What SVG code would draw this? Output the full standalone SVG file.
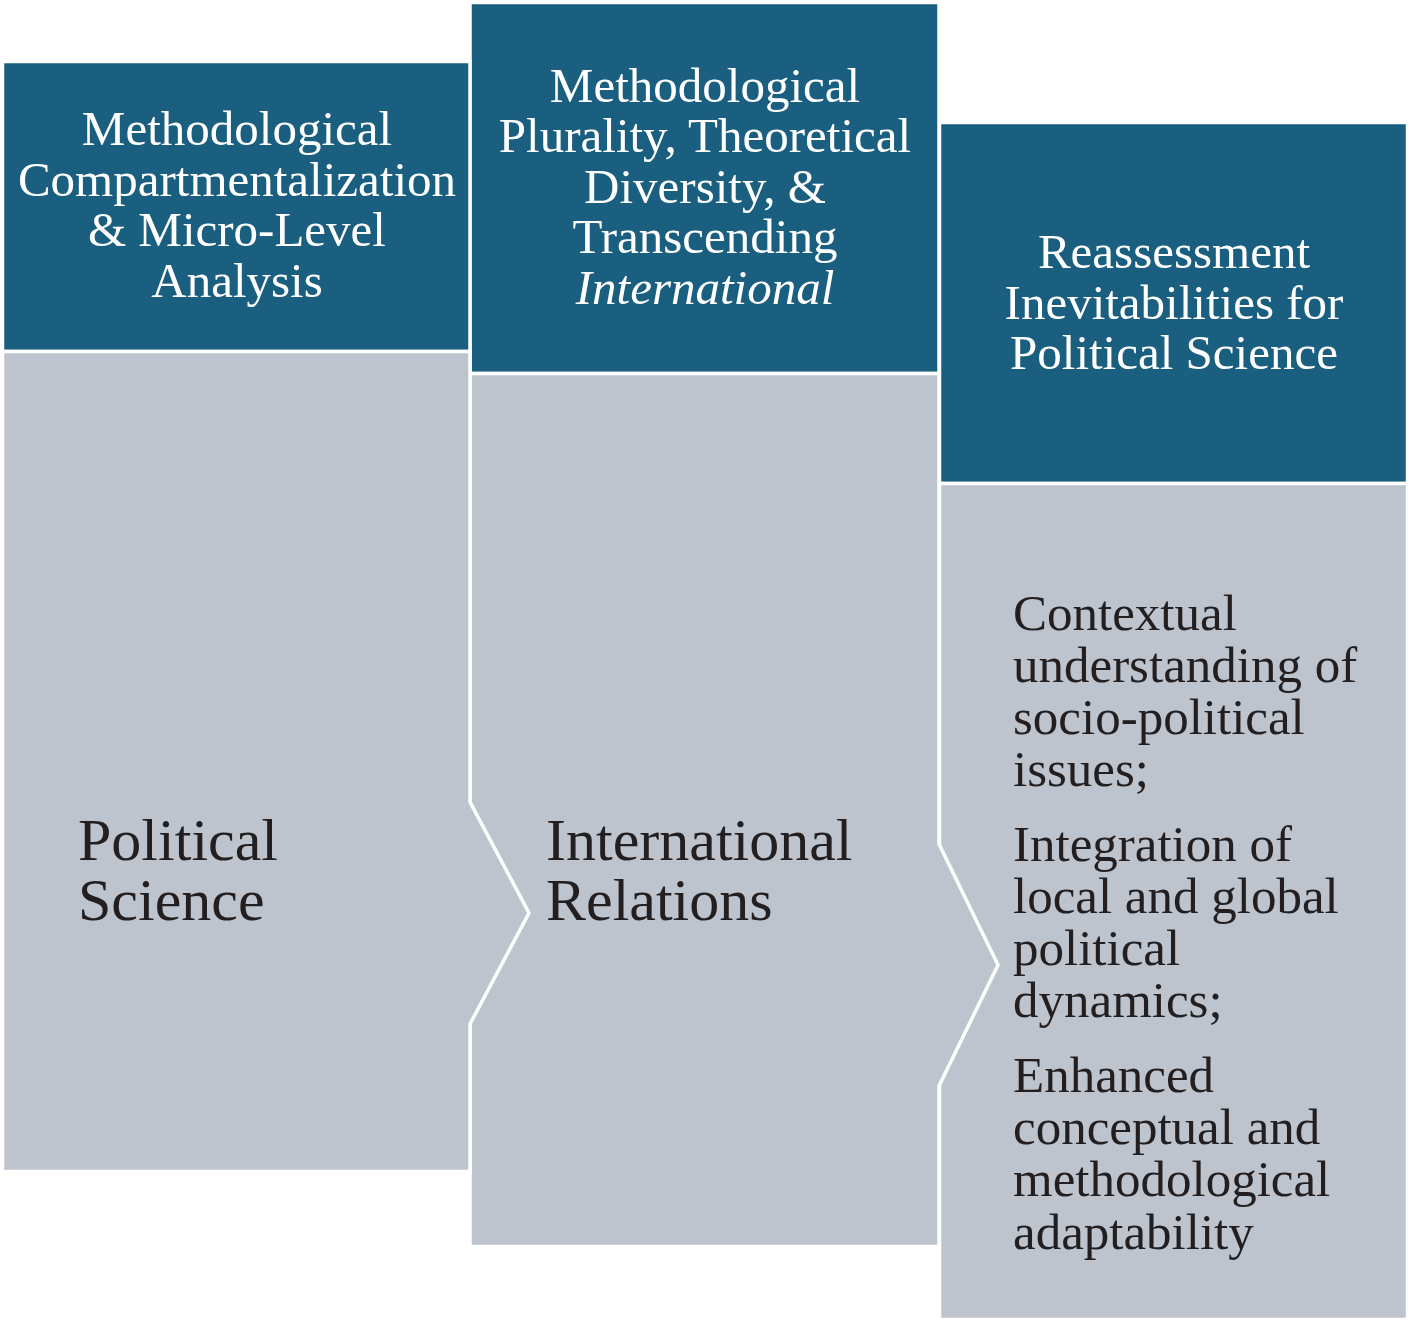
<svg xmlns="http://www.w3.org/2000/svg" width="1410" height="1324" viewBox="0 0 1410 1324">
<style>
.hdr{fill:#1a5f7f;stroke:#ffffff;stroke-width:3.5}
.body{fill:#bdc4cd;stroke:#ffffff;stroke-width:3.5}
.ht{font-family:"Liberation Serif","Times New Roman",serif;font-size:49px;fill:#ffffff;text-anchor:middle}
.bt{font-family:"Liberation Serif","Times New Roman",serif;font-size:60px;fill:#231f20}
.st{font-family:"Liberation Serif","Times New Roman",serif;font-size:51px;fill:#231f20}
</style>
<rect width="1410" height="1324" fill="#ffffff"/>
<g id="node3">
<rect class="hdr" x="939.5" y="122.5" width="468" height="361"/>
<rect class="body" x="939.5" y="483.5" width="468" height="836"/>
<text class="ht"><tspan x="1174" y="268">Reassessment</tspan><tspan x="1174" y="318.5">Inevitabilities for</tspan><tspan x="1174" y="369">Political Science</tspan></text>
<text class="st"><tspan x="1013" y="630">Contextual</tspan><tspan x="1013" y="682">understanding of</tspan><tspan x="1013" y="734">socio-political</tspan><tspan x="1013" y="786">issues;</tspan><tspan x="1013" y="861">Integration of</tspan><tspan x="1013" y="913">local and global</tspan><tspan x="1013" y="965">political</tspan><tspan x="1013" y="1017">dynamics;</tspan><tspan x="1013" y="1092">Enhanced</tspan><tspan x="1013" y="1144">conceptual and</tspan><tspan x="1013" y="1196">methodological</tspan><tspan x="1013" y="1249">adaptability</tspan></text>
</g>
<g id="node2">
<rect class="hdr" x="470" y="2.5" width="469" height="371"/>
<polygon class="body" points="470,373.5 939,373.5 939,844 998,965 939,1086 939,1246.5 470,1246.5"/>
<text class="ht"><tspan x="705" y="102">Methodological</tspan><tspan x="705" y="152">Plurality, Theoretical</tspan><tspan x="705" y="202.5">Diversity, &amp;</tspan><tspan x="705" y="253">Transcending</tspan><tspan x="705" y="303.5" font-style="italic">International</tspan></text>
<text class="bt"><tspan x="546" y="860">International</tspan><tspan x="546" y="920">Relations</tspan></text>
</g>
<g id="node1">
<rect class="hdr" x="2.5" y="61.5" width="467.5" height="290"/>
<polygon class="body" points="2.5,351.5 470,351.5 470,802 529,913 470,1024 470,1171.5 2.5,1171.5"/>
<text class="ht"><tspan x="237" y="145">Methodological</tspan><tspan x="237" y="195.5">Compartmentalization</tspan><tspan x="237" y="246">&amp; Micro-Level</tspan><tspan x="237" y="296.5">Analysis</tspan></text>
<text class="bt"><tspan x="78" y="860">Political</tspan><tspan x="78" y="920">Science</tspan></text>
</g>
<g id="connectors"></g>
</svg>
